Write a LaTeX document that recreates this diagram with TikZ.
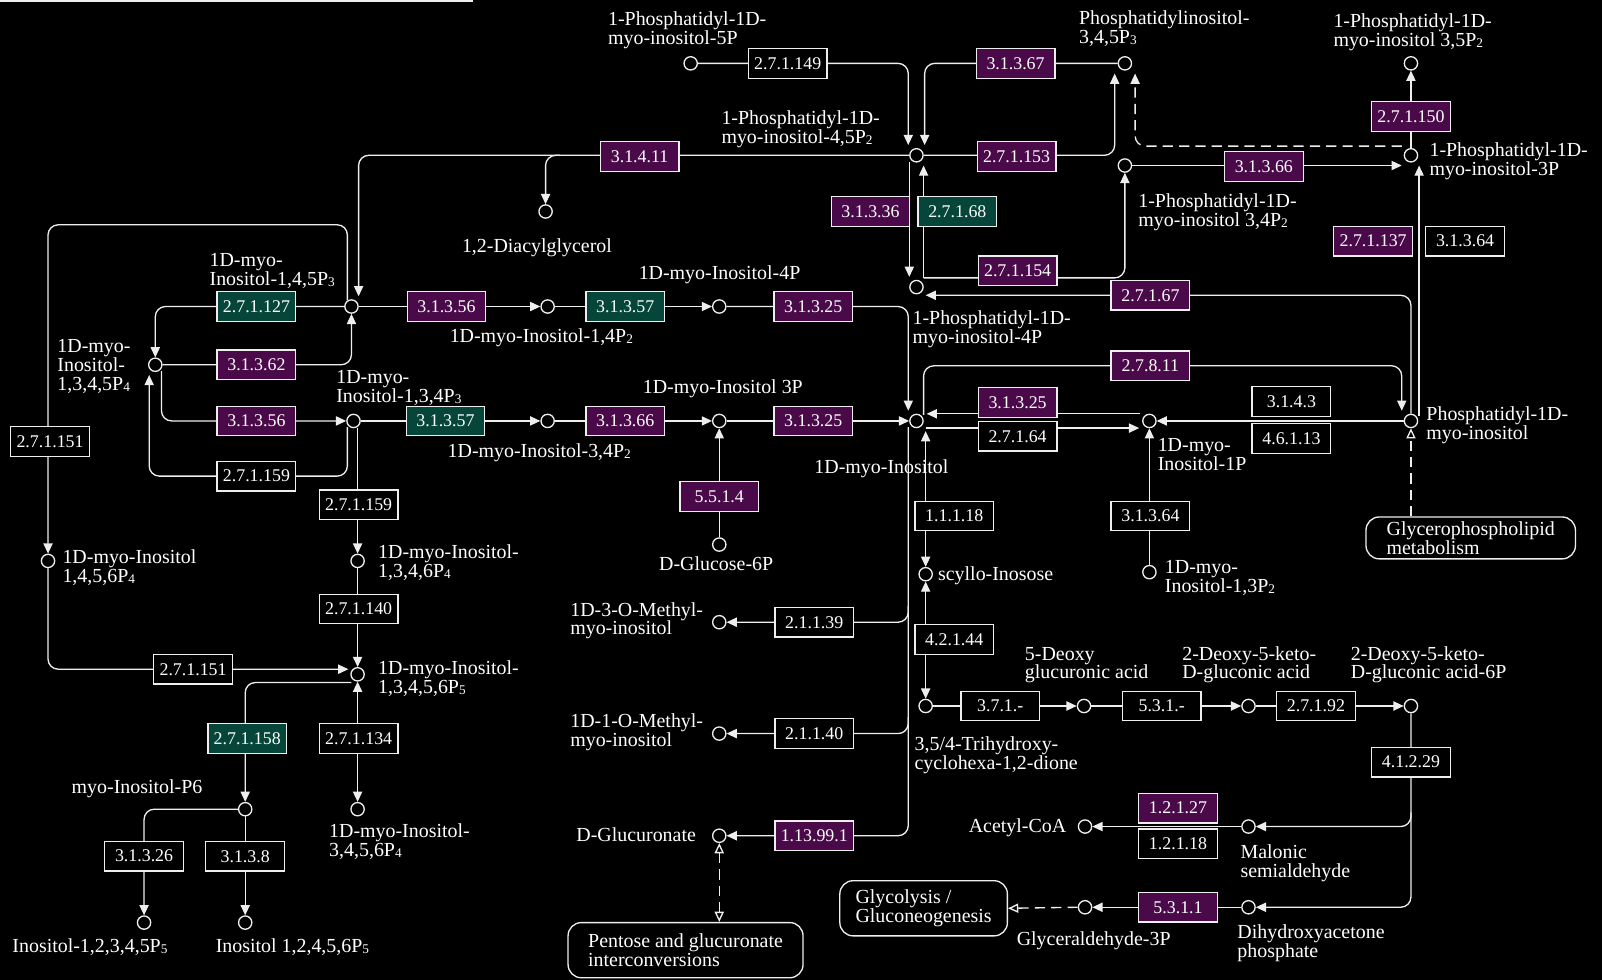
\documentclass[tikz,border=0pt]{standalone}
\usepackage{fontspec}
\setmainfont{Liberation Serif}
\usetikzlibrary{arrows.meta,calc}
\definecolor{ecpurple}{HTML}{4A0A4A}
\definecolor{ecgreen}{HTML}{06453A}
\definecolor{ink}{HTML}{EEEEEE}
% small lowered digit used in compound names (P2, P3, ...)
\newcommand\psub[1]{\raisebox{-1pt}{\fontsize{13}{13}\selectfont #1}}

\begin{document}
\begin{tikzpicture}[x=1pt,y=-1pt,
  cpd/.style={circle, draw=ink, fill=black, line width=1.3pt, minimum size=13pt, inner sep=0pt},
  ec/.style={rectangle, draw=ink, fill=black, line width=1.2pt, minimum width=77pt, minimum height=29pt,
             inner sep=0pt, text=white, font=\fontsize{17.5}{18}\selectfont},
  ecp/.style={ec, fill=ecpurple},
  ecg/.style={ec, fill=ecgreen},
  % labels are placed by the baseline of their last line
  lbl/.style={anchor=base west, inner sep=0pt, text=white, align=left, font=\fontsize{19.5}{18.5}\selectfont},
  mapbox/.style={rectangle, rounded corners=13pt, draw=ink, fill=black, line width=1.3pt, text=white,
                 align=left, font=\fontsize{19.5}{18.5}\selectfont},
  conn/.style={draw=ink, line width=1.3pt, rounded corners=10pt},
  fwd/.style={-{Triangle[length=10pt,width=9pt]}},
  biarr/.style={{Triangle[length=10pt,width=9pt]}-{Triangle[length=10pt,width=9pt]}},
  dlink/.style={dash pattern=on 10pt off 6pt},
  opentip/.style={-{Triangle[open,length=10pt,width=9pt,fill=black]}},
  openboth/.style={{Triangle[open,length=10pt,width=9pt,fill=black]}-{Triangle[open,length=10pt,width=9pt,fill=black]}}
]
\fill[black] (0,0) rectangle (1568,959);
\useasboundingbox (0,0) rectangle (1568,959);
\draw[ink, line width=1.5pt] (0,1) -- (463,1);

% ---------- compounds ----------
\node[cpd] (c5p) at (676,62) {};
\node[cpd] (c45) at (897,152) {};
\node[cpd] (cp3) at (1101,62) {};
\node[cpd] (c35) at (1381,62) {};
\node[cpd] (c3p) at (1381,152) {};
\node[cpd] (c34) at (1101,162) {};
\node[cpd] (c4p) at (897,281) {};
\node[cpd] (cdag) at (534,207) {};
\node[cpd] (cip3) at (344,300) {};
\node[cpd] (ci14) at (536,300) {};
\node[cpd] (ci4) at (704,300) {};
\node[cpd] (cip4) at (152,357) {};
\node[cpd] (ci134) at (346,412) {};
\node[cpd] (ci34) at (536,412) {};
\node[cpd] (ci3) at (704,412) {};
\node[cpd] (cino) at (897,412) {};
\node[cpd] (ci1) at (1125,412) {};
\node[cpd] (cpi) at (1381,412) {};
\node[cpd] (cg6p) at (704,533) {};
\node[cpd] (ci1456) at (47,549) {};
\node[cpd] (ci1346) at (350,549) {};
\node[cpd] (cscy) at (906,562) {};
\node[cpd] (ci13) at (1125,560) {};
\node[cpd] (cme3) at (704,609) {};
\node[cpd] (cip5) at (350,660) {};
\node[cpd] (ctri) at (906,691) {};
\node[cpd] (cdeo) at (1061,691) {};
\node[cpd] (cdk) at (1222,691) {};
\node[cpd] (cdk6) at (1381,691) {};
\node[cpd] (cme1) at (704,718) {};
\node[cpd] (cip6) at (240,792) {};
\node[cpd] (ci3456) at (350,792) {};
\node[cpd] (cglcA) at (704,818) {};
\node[cpd] (cacoa) at (1062,809) {};
\node[cpd] (cmal) at (1222,809) {};
\node[cpd] (cga3p) at (1062,888) {};
\node[cpd] (cdhap) at (1222,888) {};
\node[cpd] (cipa) at (141,903) {};
\node[cpd] (cipb) at (240,903) {};

% ---------- linked pathway maps ----------
\node[mapbox, minimum width=205pt, minimum height=41pt] (gpl) at (1439.5,526.5) {Glycerophospholipid\\metabolism};
\node[mapbox, minimum width=230pt, minimum height=54pt] (pent) at (671,930) {Pentose and glucuronate\\interconversions};
\node[mapbox, minimum width=164pt, minimum height=54pt] (glyc) at (904,889) {Glycolysis /\\Gluconeogenesis};

% ---------- reactions (drawn beneath the enzyme boxes) ----------
\draw[conn,fwd] (c5p.east) -| ($(c45)+(-8,-10)$);
\draw[conn,fwd] (cp3.west) -| ($(c45)+(8,-10)$);
\draw[conn,fwd] (c45.west) -| ($(cip3)+(7,-10)$);
\draw[conn,fwd] ($(cdag)+(14,-55)$) -| (cdag.north);
\draw[conn,fwd] (c45.east) -| ($(cp3)+(-10,10)$);
\draw[conn,fwd,dlink] ($(c3p)+(-9,-9)$) -| ($(cp3)+(10,10)$);
\draw[conn,fwd] (c34.east) -- ($(c3p)+(-9,10)$);
\draw[conn,fwd] (c3p.north) -- (c35.south);
\draw[conn,fwd] ($(cpi)+(8,-5)$) -- ($(c3p)+(8,10)$);
\draw[conn,fwd] (cpi.north) |- ($(c4p)+(9,8)$);
\draw[conn,fwd] ($(c4p)+(7,-9)$) -| (c34.south);
\draw[conn,fwd] ($(c45)+(-7,7)$) -- ($(c4p)+(-7,-10)$);
\draw[conn,fwd] ($(c4p)+(7,-9)$) -- ($(c45)+(7,10)$);

\draw[conn,fwd] (cip3.east) -- (ci14.west);
\draw[conn,fwd] (ci14.east) -- (ci4.west);
\draw[conn,fwd] (ci4.east) -| ($(cino)+(-8,-10)$);
\draw[conn,fwd] (cip3.west) -| (cip4.north);
\draw[conn,fwd] (cip4.east) -| (cip3.south);
\draw[conn,fwd] ($(cip4)+(6,6)$) |- (ci134.west);
\draw[conn,fwd] ($(ci134)+(-6,6)$) |- ($(cip4)+(-6,109)$) -- ($(cip4)+(-6,10)$);
\draw[conn,fwd] ($(cip3)+(-4,-6)$) |- ($(ci1456)+(0,-329)$) -- (ci1456.north);
\draw[conn,fwd] (ci134.east) -- (ci34.west);
\draw[conn,fwd] (ci34.east) -- (ci3.west);
\draw[conn,fwd] (ci3.east) -- (cino.west);
\draw[conn,fwd] (cg6p.north) -- (ci3.south);
\draw[conn,fwd] ($(ci134)+(4,6.5)$) -- (ci1346.north);
\draw[conn,fwd] (ci1346.south) -- (cip5.north);
\draw[conn,fwd] (ci1456.south) |- ($(cip5)+(-9,-5)$);
\draw[conn,fwd] ($(cip5)+(-6,8)$) -| (cip6.north);
\draw[conn,biarr] (cip5.south) -- (ci3456.north);
\draw[conn,fwd] (cip6.west) -| (cipa.north);
\draw[conn,fwd] (cip6.south) -- (cipb.north);

\draw[conn,fwd] ($(cino)+(7,-6)$) |- ($(cpi)+(-9,-54)$) -- ($(cpi)+(-9,-10)$);
\draw[conn,fwd] ($(ci1)+(-9,-7)$) -- ($(cino)+(10,-7)$);
\draw[conn,fwd] ($(cino)+(9,7)$) -- ($(ci1)+(-10,7)$);
\draw[conn,fwd] (cpi.west) -- (ci1.east);
\draw[conn,opentip,dlink] (cpi.south |- gpl.north) -- (cpi.south);
\draw[conn,fwd] (ci13.north) -- (ci1.south);
\draw[conn,biarr] ($(cino)+(9,10)$) -- (cscy.north);
\draw[conn,fwd] ($(cino)+(-8,6)$) |- (cglcA.east);
\draw[conn,fwd] ($(cme3)+(185,-16)$) |- (cme3.east);
\draw[conn,fwd] ($(cme1)+(185,-16)$) |- (cme1.east);
\draw[conn,openboth,dlink] (cglcA.south) -- (cglcA.south |- pent.north);

\draw[conn,biarr] (cscy.south) -- (ctri.north);
\draw[conn,fwd] (ctri.east) -- (cdeo.west);
\draw[conn,fwd] (cdeo.east) -- (cdk.west);
\draw[conn,fwd] (cdk.east) -- (cdk6.west);
\draw[conn,fwd] (cdk6.south) |- (cdhap.east);
\draw[conn,fwd] ($(cmal)+(159,-14)$) |- (cmal.east);
\draw[conn,fwd] (cmal.west) -- (cacoa.east);
\draw[conn,fwd] (cdhap.west) -- (cga3p.east);
\draw[conn,opentip,dlink] (cga3p.west) -- (glyc.east);

% ---------- enzymes ----------
\node[ec]  (e271149)  at (771,62)   {2.7.1.149};
\node[ecp] (e31367)   at (994,62)   {3.1.3.67};
\node[ecp] (e31411)   at (626,153)  {3.1.4.11};
\node[ecp] (e271153)  at (995,153)  {2.7.1.153};
\node[ecp] (e31366a)  at (1237,163) {3.1.3.66};
\node[ecp] (e271150)  at (1381,114) {2.7.1.150};
\node[ecp] (e31336)   at (852,207)  {3.1.3.36};
\node[ecg] (e27168)   at (937,207)  {2.7.1.68};
\node[ecp] (e271137)  at (1344,236) {2.7.1.137};
\node[ec]  (e31364a)  at (1434,236) {3.1.3.64};
\node[ecp] (e271154)  at (996,265)  {2.7.1.154};
\node[ecp] (e27167)   at (1126,289) {2.7.1.67};
\node[ecg] (e271127)  at (251,300)  {2.7.1.127};
\node[ecp] (e31356a)  at (437,300)  {3.1.3.56};
\node[ecg] (e31357a)  at (612,300)  {3.1.3.57};
\node[ecp] (e31325a)  at (796,300)  {3.1.3.25};
\node[ecp] (e31362)   at (251,357)  {3.1.3.62};
\node[ecp] (e27811)   at (1126,358) {2.7.8.11};
\node[ecp] (e31325b)  at (996,394)  {3.1.3.25};
\node[ec]  (e3143)    at (1264,393) {3.1.4.3};
\node[ec]  (e27164)   at (996,427)  {2.7.1.64};
\node[ec]  (e46113)   at (1264,429) {4.6.1.13};
\node[ecp] (e31356b)  at (251,412)  {3.1.3.56};
\node[ecg] (e31357b)  at (436,412)  {3.1.3.57};
\node[ecp] (e31366b)  at (612,412)  {3.1.3.66};
\node[ecp] (e31325c)  at (796,412)  {3.1.3.25};
\node[ec]  (e271151a) at (49,432)   {2.7.1.151};
\node[ec]  (e271159a) at (251,466)  {2.7.1.159};
\node[ec]  (e271159b) at (351,494)  {2.7.1.159};
\node[ecp] (e5514)    at (704,486)  {5.5.1.4};
\node[ec]  (e11118)   at (934,505)  {1.1.1.18};
\node[ec]  (e31364b)  at (1126,505) {3.1.3.64};
\node[ec]  (e271140)  at (351,596)  {2.7.1.140};
\node[ec]  (e21139)   at (797,609)  {2.1.1.39};
\node[ec]  (e42144)   at (934,626)  {4.2.1.44};
\node[ec]  (e271151b) at (189,655)  {2.7.1.151};
\node[ec]  (e371)     at (979,691)  {3.7.1.-};
\node[ec]  (e531)     at (1137,691) {5.3.1.-};
\node[ec]  (e27192)   at (1288,691) {2.7.1.92};
\node[ec]  (e21140)   at (797,718)  {2.1.1.40};
\node[ecg] (e271158)  at (242,723)  {2.7.1.158};
\node[ec]  (e271134)  at (351,723)  {2.7.1.134};
\node[ec]  (e41229)   at (1381,746) {4.1.2.29};
\node[ecp] (e12127)   at (1153,791) {1.2.1.27};
\node[ec]  (e12118)   at (1153,826) {1.2.1.18};
\node[ecp] (e113991)  at (797,818)  {1.13.99.1};
\node[ec]  (e31326)   at (141,838)  {3.1.3.26};
\node[ec]  (e3138)    at (240,838)  {3.1.3.8};
\node[ecp] (e5311)    at (1153,888) {5.3.1.1};

% ---------- compound names ----------
\node[lbl] (l5p)   at (595,43.5)   {1-Phosphatidyl-1D-\\myo-inositol-5P};
\node[lbl] (l45)   at (706,140.5)  {1-Phosphatidyl-1D-\\myo-inositol-4,5P\psub{2}};
\node[lbl] (lp3)   at (1056,42.5)  {Phosphatidylinositol-\\3,4,5P\psub{3}};
\node[lbl] (l35)   at (1305,45.5)  {1-Phosphatidyl-1D-\\myo-inositol 3,5P\psub{2}};
\node[lbl] (l3p)   at (1399,171.5) {1-Phosphatidyl-1D-\\myo-inositol-3P};
\node[lbl] (l34)   at (1114,221.5) {1-Phosphatidyl-1D-\\myo-inositol 3,4P\psub{2}};
\node[lbl] (ldag)  at (452,247)    {1,2-Diacylglycerol};
\node[lbl] (lip3)  at (205,279.5)  {1D-myo-\\Inositol-1,4,5P\psub{3}};
\node[lbl] (li4)   at (625,274)    {1D-myo-Inositol-4P};
\node[lbl] (li14)  at (440,335)    {1D-myo-Inositol-1,4P\psub{2}};
\node[lbl] (l4p)   at (893,336.5)  {1-Phosphatidyl-1D-\\myo-inositol-4P};
\node[lbl] (lip4)  at (56,382)     {1D-myo-\\Inositol-\\1,3,4,5P\psub{4}};
\node[lbl] (li134) at (329,393.5)  {1D-myo-\\Inositol-1,3,4P\psub{3}};
\node[lbl] (li3)   at (629,385)    {1D-myo-Inositol 3P};
\node[lbl] (li34)  at (438,448)    {1D-myo-Inositol-3,4P\psub{2}};
\node[lbl] (lino)  at (797,463)    {1D-myo-Inositol};
\node[lbl] (li1)   at (1133,460.5) {1D-myo-\\Inositol-1P};
\node[lbl] (lpi)   at (1396,430.5) {Phosphatidyl-1D-\\myo-inositol};
\node[lbl] (lg6p)  at (645,558)    {D-Glucose-6P};
\node[lbl] (lscy)  at (918,568)    {scyllo-Inosose};
\node[lbl] (l1456) at (61,570.5)   {1D-myo-Inositol\\1,4,5,6P\psub{4}};
\node[lbl] (l1346) at (370,565.5)  {1D-myo-Inositol-\\1,3,4,6P\psub{4}};
\node[lbl] (li13)  at (1140,579.5) {1D-myo-\\Inositol-1,3P\psub{2}};
\node[lbl] (lme3)  at (558,621.5)  {1D-3-O-Methyl-\\myo-inositol};
\node[lbl] (ldeo)  at (1003,664.5) {5-Deoxy\\glucuronic acid};
\node[lbl] (ldk)   at (1157,664.5) {2-Deoxy-5-keto-\\D-gluconic acid};
\node[lbl] (ldk6)  at (1322,664.5) {2-Deoxy-5-keto-\\D-gluconic acid-6P};
\node[lbl] (lip5)  at (370,678.5)  {1D-myo-Inositol-\\1,3,4,5,6P\psub{5}};
\node[lbl] (lme1)  at (558,730.5)  {1D-1-O-Methyl-\\myo-inositol};
\node[lbl] (ltri)  at (895,753.5)  {3,5/4-Trihydroxy-\\cyclohexa-1,2-dione};
\node[lbl] (lip6)  at (70,777)     {myo-Inositol-P6};
\node[lbl] (l3456) at (322,838.5)  {1D-myo-Inositol-\\3,4,5,6P\psub{4}};
\node[lbl] (lglca) at (564,824)    {D-Glucuronate};
\node[lbl] (lacoa) at (948,815)    {Acetyl-CoA};
\node[lbl] (lmal)  at (1214,858.5) {Malonic\\semialdehyde};
\node[lbl] (lga3p) at (995,925)    {Glyceraldehyde-3P};
\node[lbl] (ldhap) at (1211,937.5) {Dihydroxyacetone\\phosphate};
\node[lbl] (lipa)  at (12,932)     {Inositol-1,2,3,4,5P\psub{5}};
\node[lbl] (lipb)  at (211,932)    {Inositol 1,2,4,5,6P\psub{5}};
\end{tikzpicture}
\end{document}
